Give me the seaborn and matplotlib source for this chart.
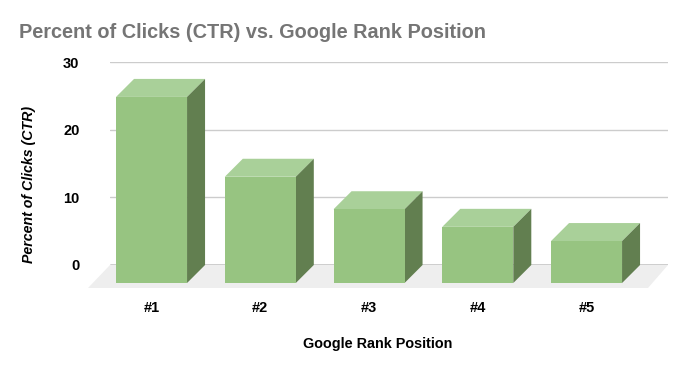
# import libraries
import matplotlib
matplotlib.use("Agg")
import pandas as pd
import matplotlib.pyplot as plt
from matplotlib.patches import Polygon
import seaborn as sns

# values
positions = ["#1", "#2", "#3", "#4", "#5"]
ctr = [27.5, 15.7, 10.9, 8.3, 6.2]
y_ticks = [0, 10, 20, 30]

df = pd.DataFrame({"position": positions, "ctr": ctr})

sns.set_style("white")
plt.rcParams["font.family"] = ["Liberation Sans", "DejaVu Sans"]

W, H = 687, 371
FRONT = "#97c481"
TOP = "#a9d099"
SIDE = "#627f50"
FLOOR = "#eeeeee"

fig = plt.figure(figsize=(W / 100, H / 100), dpi=100)
rect = [110 / W, 1 - 265 / H, 558 / W, 203 / H]

# back plane with the gridlines
ax = fig.add_axes(rect)
ax.set_ylim(0, 30)
ax.set_xlim(-0.382, 4.749)
ax.set_yticks(y_ticks)
ax.set_yticklabels([str(t) for t in y_ticks], fontsize=10.5, fontweight="bold", color="black")
ax.tick_params(axis="y", length=0, pad=22)
ax.set_xticks([])
ax.grid(axis="y", color="#cccccc", linewidth=1)
ax.set_axisbelow(True)
for s in ax.spines.values():
    s.set_visible(False)
ax.axhline(0, color="#333333", linewidth=1, zorder=2)

# depth of the 3d effect in data units
dx = 18 / 108.75
dy = 18 / (203 / 30)

# floor under the bars
x0, x1 = ax.get_xlim()
floor_dy = 23 / (203 / 30)
floor = Polygon(
    [(x0 - 22 / 108.75, -floor_dy), (x1 - 20 / 108.75, -floor_dy), (x1, 0), (x0, 0)],
    closed=True, facecolor=FLOOR, edgecolor="none", clip_on=False, zorder=1,
)
ax.add_patch(floor)

# front faces, same scale shifted down by the depth
front = fig.add_axes(rect, sharex=None)
front.patch.set_alpha(0)
sns.barplot(data=df, x="position", y="ctr", color=FRONT, saturation=1, width=0.653, ax=front,
            clip_on=False, zorder=4, edgecolor="none", linewidth=0)
front.set_xlim(x0, x1)
front.set_ylim(dy, 30 + dy)
front.set_xlabel("")
front.set_ylabel("")
front.set_yticks([])
front.tick_params(axis="x", length=0, pad=26)
for lab in front.get_xticklabels():
    lab.set_fontsize(10.5)
    lab.set_fontweight("bold")
    lab.set_color("black")
for s in front.spines.values():
    s.set_visible(False)

# top and side faces built from the bars
for bar in list(front.patches):
    left = bar.get_x()
    right = left + bar.get_width()
    h = bar.get_height()
    front.add_patch(Polygon(
        [(left, h), (right, h), (right + dx, h + dy), (left + dx, h + dy)],
        closed=True, facecolor=TOP, edgecolor="none", clip_on=False, zorder=3,
    ))
    front.add_patch(Polygon(
        [(right, 0), (right + dx, dy), (right + dx, h + dy), (right, h)],
        closed=True, facecolor=SIDE, edgecolor="none", clip_on=False, zorder=3,
    ))

# labels
fig.text(19 / W, 1 - 32 / H, "Percent of Clicks (CTR) vs. Google Rank Position",
         fontsize=14.3, fontweight="bold", color="#757575", va="center", ha="left")
fig.text(29 / W, 1 - 184 / H, "Percent of Clicks (CTR)", rotation=90,
         fontsize=10.2, fontweight="bold", style="italic", color="black", va="center", ha="center")
fig.text(378 / W, 1 - 344 / H, "Google Rank Position",
         fontsize=10.4, fontweight="bold", color="black", va="center", ha="center")

fig.savefig("out.png", dpi=100)
